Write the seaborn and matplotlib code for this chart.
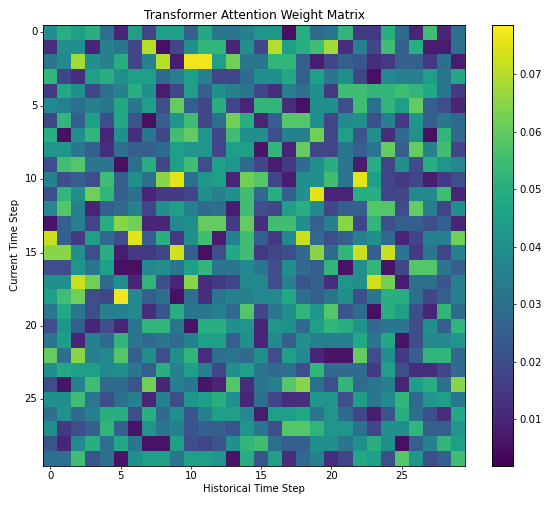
import numpy as np
import pandas as pd
import matplotlib
matplotlib.use("Agg")
import matplotlib.pyplot as plt
import seaborn as sns

title = "Transformer Attention Weight Matrix"
x_label = "Historical Time Step"
y_label = "Current Time Step"
tick_labels = ["0", "5", "10", "15", "20", "25"]
tick_steps = [0, 5, 10, 15, 20, 25]
cbar_ticks = [0.01, 0.02, 0.03, 0.04, 0.05, 0.06, 0.07]

row_00 = [0.040,0.050,0.045,0.050,0.030,0.010,0.045,0.018,0.045,0.045,0.025,0.048,0.032,0.032,0.035,0.042,0.042,0.005,0.050,0.028,0.032,0.052,0.015,0.015,0.050,0.028,0.010,0.055,0.010,0.030]
row_01 = [0.012,0.040,0.040,0.010,0.035,0.032,0.018,0.070,0.005,0.018,0.040,0.052,0.052,0.010,0.040,0.018,0.070,0.045,0.050,0.055,0.068,0.012,0.035,0.018,0.055,0.025,0.050,0.008,0.008,0.030]
row_02 = [0.032,0.038,0.068,0.040,0.035,0.050,0.018,0.035,0.070,0.008,0.077,0.077,0.045,0.062,0.032,0.032,0.052,0.052,0.025,0.008,0.018,0.025,0.022,0.012,0.015,0.025,0.025,0.015,0.030,0.008]
row_03 = [0.052,0.018,0.012,0.045,0.050,0.040,0.045,0.045,0.028,0.035,0.045,0.035,0.018,0.018,0.028,0.040,0.040,0.048,0.025,0.045,0.032,0.040,0.018,0.005,0.038,0.035,0.035,0.045,0.032,0.048]
row_04 = [0.015,0.048,0.040,0.018,0.030,0.035,0.050,0.040,0.008,0.018,0.045,0.025,0.040,0.035,0.032,0.018,0.012,0.035,0.030,0.040,0.015,0.055,0.055,0.052,0.052,0.055,0.052,0.048,0.032,0.015]
row_05 = [0.038,0.035,0.030,0.035,0.032,0.048,0.032,0.045,0.020,0.060,0.025,0.018,0.050,0.018,0.010,0.052,0.052,0.012,0.005,0.040,0.040,0.020,0.055,0.030,0.052,0.045,0.060,0.025,0.020,0.010]
row_06 = [0.018,0.052,0.025,0.045,0.020,0.048,0.022,0.005,0.025,0.042,0.055,0.018,0.030,0.062,0.050,0.010,0.025,0.058,0.058,0.040,0.018,0.038,0.040,0.020,0.035,0.015,0.042,0.025,0.032,0.028]
row_07 = [0.050,0.005,0.040,0.052,0.010,0.040,0.012,0.032,0.018,0.055,0.060,0.042,0.018,0.055,0.040,0.040,0.020,0.035,0.035,0.062,0.018,0.045,0.022,0.040,0.012,0.028,0.040,0.005,0.052,0.028]
row_08 = [0.042,0.042,0.032,0.025,0.012,0.030,0.025,0.025,0.028,0.045,0.042,0.042,0.018,0.045,0.045,0.006,0.052,0.010,0.060,0.018,0.018,0.032,0.025,0.032,0.060,0.025,0.060,0.035,0.055,0.018]
row_09 = [0.020,0.055,0.058,0.032,0.032,0.005,0.030,0.050,0.018,0.045,0.055,0.020,0.045,0.042,0.028,0.018,0.008,0.015,0.028,0.040,0.050,0.032,0.008,0.050,0.018,0.040,0.020,0.050,0.042,0.038]
row_10 = [0.035,0.020,0.025,0.020,0.055,0.025,0.040,0.030,0.065,0.075,0.030,0.042,0.045,0.010,0.062,0.058,0.018,0.008,0.040,0.040,0.055,0.032,0.075,0.045,0.018,0.015,0.018,0.008,0.015,0.020]
row_11 = [0.020,0.052,0.040,0.062,0.052,0.025,0.030,0.010,0.015,0.015,0.018,0.040,0.035,0.040,0.055,0.028,0.050,0.025,0.040,0.075,0.010,0.010,0.050,0.050,0.018,0.018,0.038,0.038,0.055,0.010]
row_12 = [0.038,0.058,0.035,0.010,0.025,0.028,0.035,0.018,0.040,0.045,0.035,0.028,0.030,0.008,0.055,0.020,0.018,0.045,0.050,0.038,0.018,0.025,0.025,0.058,0.058,0.020,0.060,0.035,0.018,0.040]
row_13 = [0.006,0.025,0.035,0.018,0.050,0.065,0.062,0.010,0.010,0.038,0.040,0.060,0.060,0.015,0.060,0.012,0.055,0.055,0.040,0.025,0.035,0.065,0.018,0.052,0.020,0.025,0.025,0.020,0.025,0.010]
row_14 = [0.072,0.025,0.015,0.045,0.028,0.020,0.075,0.025,0.050,0.015,0.040,0.055,0.008,0.035,0.055,0.025,0.015,0.038,0.072,0.028,0.020,0.025,0.035,0.040,0.028,0.010,0.018,0.035,0.035,0.062]
row_15 = [0.065,0.065,0.040,0.020,0.050,0.008,0.015,0.015,0.018,0.073,0.025,0.005,0.020,0.048,0.055,0.015,0.018,0.020,0.028,0.065,0.028,0.052,0.072,0.025,0.072,0.032,0.015,0.032,0.018,0.035]
row_16 = [0.020,0.020,0.042,0.032,0.045,0.005,0.005,0.038,0.040,0.032,0.045,0.052,0.032,0.032,0.038,0.032,0.020,0.040,0.028,0.025,0.052,0.006,0.040,0.052,0.006,0.018,0.058,0.058,0.032,0.025]
row_17 = [0.040,0.040,0.072,0.062,0.028,0.040,0.010,0.052,0.020,0.010,0.065,0.012,0.015,0.018,0.038,0.038,0.020,0.035,0.022,0.025,0.012,0.042,0.040,0.073,0.062,0.008,0.030,0.030,0.022,0.035]
row_18 = [0.045,0.055,0.062,0.020,0.018,0.077,0.038,0.025,0.030,0.005,0.030,0.012,0.032,0.035,0.035,0.038,0.038,0.048,0.030,0.025,0.032,0.040,0.020,0.032,0.050,0.050,0.030,0.018,0.025,0.035]
row_19 = [0.032,0.048,0.032,0.020,0.035,0.035,0.038,0.012,0.022,0.050,0.032,0.032,0.035,0.028,0.058,0.018,0.032,0.040,0.052,0.042,0.058,0.022,0.028,0.005,0.050,0.045,0.020,0.010,0.052,0.028]
row_20 = [0.020,0.042,0.025,0.010,0.020,0.010,0.032,0.052,0.052,0.032,0.006,0.050,0.050,0.040,0.042,0.010,0.042,0.040,0.028,0.045,0.052,0.050,0.042,0.028,0.032,0.032,0.020,0.040,0.025,0.052]
row_21 = [0.032,0.045,0.010,0.035,0.028,0.052,0.032,0.028,0.032,0.028,0.035,0.045,0.045,0.025,0.040,0.010,0.038,0.025,0.040,0.035,0.035,0.035,0.048,0.032,0.048,0.006,0.020,0.038,0.038,0.042]
row_22 = [0.060,0.030,0.065,0.035,0.038,0.058,0.025,0.040,0.020,0.040,0.052,0.012,0.030,0.032,0.028,0.040,0.020,0.045,0.038,0.010,0.006,0.006,0.060,0.020,0.040,0.015,0.025,0.052,0.052,0.028]
row_23 = [0.040,0.048,0.045,0.045,0.038,0.040,0.032,0.025,0.050,0.035,0.045,0.035,0.018,0.040,0.045,0.032,0.028,0.030,0.020,0.052,0.028,0.028,0.028,0.015,0.045,0.020,0.012,0.012,0.018,0.028]
row_24 = [0.020,0.006,0.035,0.055,0.028,0.028,0.022,0.062,0.010,0.035,0.032,0.006,0.010,0.058,0.012,0.032,0.035,0.058,0.065,0.030,0.020,0.052,0.028,0.032,0.035,0.010,0.045,0.050,0.030,0.065]
row_25 = [0.040,0.040,0.055,0.032,0.020,0.030,0.035,0.010,0.035,0.020,0.042,0.045,0.050,0.040,0.010,0.030,0.018,0.012,0.012,0.042,0.042,0.020,0.045,0.032,0.038,0.052,0.028,0.042,0.045,0.032]
row_26 = [0.030,0.040,0.028,0.035,0.050,0.050,0.020,0.050,0.028,0.040,0.022,0.035,0.045,0.045,0.038,0.008,0.045,0.045,0.048,0.032,0.042,0.028,0.018,0.008,0.022,0.050,0.030,0.020,0.012,0.048]
row_27 = [0.040,0.015,0.020,0.025,0.052,0.025,0.006,0.042,0.032,0.035,0.022,0.025,0.025,0.022,0.042,0.032,0.020,0.058,0.058,0.052,0.042,0.042,0.030,0.018,0.040,0.040,0.052,0.025,0.025,0.042]
row_28 = [0.022,0.010,0.038,0.050,0.030,0.048,0.032,0.006,0.006,0.045,0.020,0.018,0.022,0.040,0.052,0.055,0.030,0.025,0.025,0.040,0.040,0.032,0.040,0.050,0.040,0.005,0.025,0.035,0.052,0.045]
row_29 = [0.030,0.030,0.055,0.022,0.030,0.006,0.040,0.045,0.045,0.032,0.045,0.045,0.042,0.006,0.050,0.022,0.045,0.012,0.028,0.035,0.012,0.018,0.048,0.045,0.020,0.058,0.042,0.020,0.025,0.055]

rows = [row_00, row_01, row_02, row_03, row_04, row_05, row_06, row_07, row_08, row_09,
        row_10, row_11, row_12, row_13, row_14, row_15, row_16, row_17, row_18, row_19,
        row_20, row_21, row_22, row_23, row_24, row_25, row_26, row_27, row_28, row_29]
matrix = pd.DataFrame(np.array(rows))

W, H = 550, 505
fig = plt.figure(figsize=(W / 100, H / 100), dpi=100)
ax = fig.add_axes([43.3 / W, 1 - 465.5 / H, (465 - 43.3) / W, (465.5 - 25) / H])
cax = fig.add_axes([491.7 / W, 1 - 465.5 / H, 21.6 / W, (465.5 - 25) / H])

sns.heatmap(matrix, ax=ax, cbar_ax=cax, cmap="viridis", vmin=0.002, vmax=0.0785,
            square=False, cbar_kws={"ticks": cbar_ticks})

fs = 7.3
ax.set_xticks([t + 0.5 for t in tick_steps])
ax.set_xticklabels(tick_labels, rotation=0, fontsize=fs)
ax.set_yticks([t + 0.5 for t in tick_steps])
ax.set_yticklabels(tick_labels, rotation=0, fontsize=fs)
ax.tick_params(length=2.3, width=0.55, pad=2)
for s in ax.spines.values():
    s.set_visible(True)
    s.set_linewidth(0.6)
    s.set_color("black")
ax.set_xlabel(x_label, fontsize=fs, labelpad=2)
ax.set_ylabel(y_label, fontsize=fs, labelpad=3)
ax.set_title(title, fontsize=8.7, pad=4)

cax.tick_params(labelsize=fs, length=2.3, width=0.55, pad=2)
cax.yaxis.set_major_formatter(matplotlib.ticker.FormatStrFormatter("%.2f"))
for s in cax.spines.values():
    s.set_visible(True)
    s.set_linewidth(0.6)
cbar = ax.collections[0].colorbar
cbar.outline.set_visible(True)
cbar.outline.set_linewidth(0.6)

fig.savefig("out.png", dpi=100)
